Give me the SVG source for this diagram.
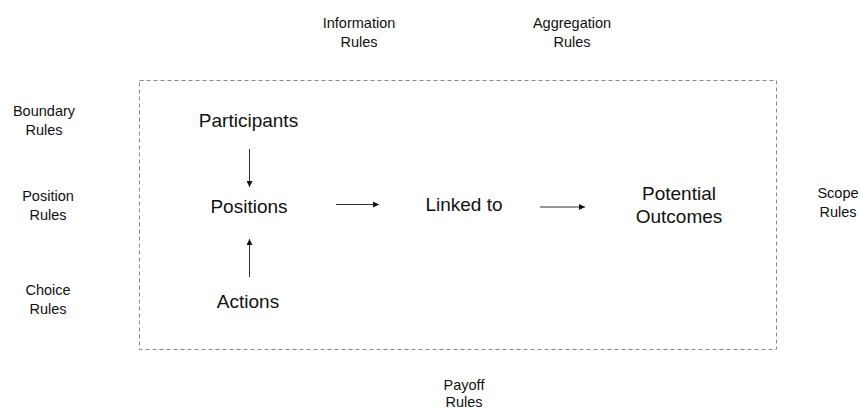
<svg xmlns="http://www.w3.org/2000/svg" width="861" height="410" viewBox="0 0 861 410">
<style>
.s{font-family:"Liberation Sans",Arial,sans-serif;font-size:14.5px;fill:#111;text-anchor:middle}
.m{font-family:"Liberation Sans",Arial,sans-serif;font-size:19px;fill:#111;text-anchor:middle}
.c{stroke:#333;stroke-width:1;fill:none;marker-end:url(#a)}
</style>
<defs>
<marker id="a" viewBox="0 0 6 6" refX="6" refY="3" markerWidth="6" markerHeight="6" markerUnits="userSpaceOnUse" orient="auto">
<path d="M0,0L6,3L0,6Z" fill="#111"/>
</marker>
</defs>
<rect width="861" height="410" fill="#fff"/>
<rect id="frame" x="139.5" y="80.5" width="637" height="269" fill="none" stroke="#888" stroke-width="1" stroke-dasharray="4 3"/>
<g id="information-rules"><text class="s" x="359" y="28">Information</text><text class="s" x="359" y="47">Rules</text></g>
<g id="aggregation-rules"><text class="s" x="572" y="28">Aggregation</text><text class="s" x="572" y="47">Rules</text></g>
<g id="boundary-rules"><text class="s" x="44" y="116">Boundary</text><text class="s" x="44" y="135">Rules</text></g>
<g id="position-rules"><text class="s" x="48" y="201">Position</text><text class="s" x="48" y="220">Rules</text></g>
<g id="choice-rules"><text class="s" x="48" y="295">Choice</text><text class="s" x="48" y="314">Rules</text></g>
<g id="scope-rules"><text class="s" x="838" y="198">Scope</text><text class="s" x="838" y="217">Rules</text></g>
<g id="payoff-rules"><text class="s" x="464" y="390">Payoff</text><text class="s" x="464" y="407">Rules</text></g>
<g id="participants"><text class="m" x="248.5" y="127">Participants</text></g>
<g id="positions"><text class="m" x="249" y="213">Positions</text></g>
<g id="actions"><text class="m" x="248" y="308">Actions</text></g>
<g id="linked-to"><text class="m" x="464" y="211">Linked to</text></g>
<g id="potential-outcomes"><text class="m" x="679" y="200">Potential</text><text class="m" x="679" y="223">Outcomes</text></g>
<g id="connectors">
<line class="c" x1="249.5" y1="149" x2="249.5" y2="187"/>
<line class="c" x1="249.5" y1="277" x2="249.5" y2="239"/>
<line class="c" x1="336" y1="204.5" x2="379" y2="204.5"/>
<line class="c" x1="540" y1="207" x2="585" y2="207"/>
</g>
</svg>
